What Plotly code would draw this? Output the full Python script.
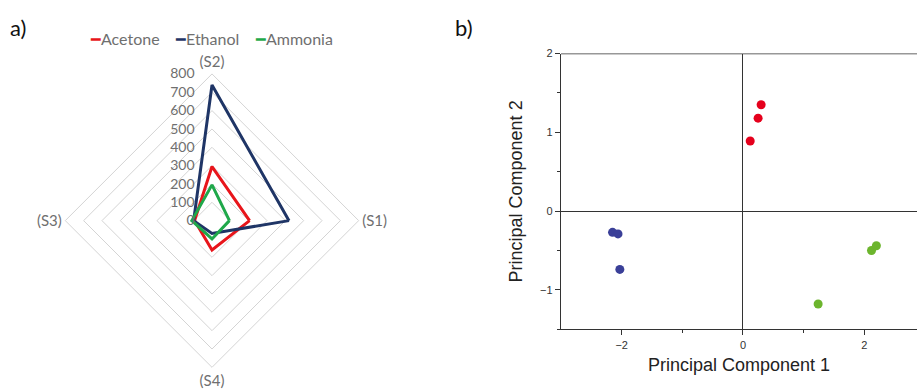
import plotly.graph_objects as go

# Sensor responses (radar chart)
sensors = ["(S1)", "(S2)", "(S3)", "(S4)"]
acetone = [205, 295, 95, 160]
ethanol = [420, 740, 100, 70]
ammonia = [95, 195, 110, 100]

# PCA scores
pc1_acetone = [0.30, 0.25, 0.12]
pc2_acetone = [1.35, 1.18, 0.89]
pc1_ethanol = [-2.15, -2.06, -2.03]
pc2_ethanol = [-0.27, -0.29, -0.74]
pc1_ammonia = [1.24, 2.12, 2.20]
pc2_ammonia = [-1.18, -0.50, -0.44]

series = ["Acetone", "Ethanol", "Ammonia"]
radar_colors = {"Acetone": "#e8151b", "Ethanol": "#1f3566", "Ammonia": "#1fa84a"}
pca_colors = {"Acetone": "#e5001c", "Ethanol": "#3a3f98", "Ammonia": "#6cb52d"}

W, H = 917, 389
fig = go.Figure()


def closed(vals):
    return list(vals) + [vals[0]]


for name, vals in zip(series, [acetone, ethanol, ammonia]):
    fig.add_trace(go.Scatterpolar(
        r=closed(vals), theta=closed(sensors), name=name, mode="lines",
        line=dict(color=radar_colors[name], width=3), subplot="polar",
        showlegend=False,
    ))

for name, xs, ys in zip(series, [pc1_acetone, pc1_ethanol, pc1_ammonia],
                        [pc2_acetone, pc2_ethanol, pc2_ammonia]):
    fig.add_trace(go.Scatter(
        x=xs, y=ys, mode="markers", showlegend=False, name=name,
        marker=dict(color=pca_colors[name], size=9),
    ))

# radar placement (centre and half-size of the polar domain, px)
cx, cy, rad = 212, 218, 149
grey = "#6f6f6f"
fig.update_layout(
    width=W, height=H,
    margin=dict(l=0, r=0, t=0, b=0),
    paper_bgcolor="white", plot_bgcolor="white",
    showlegend=False,
    polar=dict(
        domain=dict(x=[(cx - rad) / W, (cx + rad) / W],
                    y=[1 - (cy + rad) / H, 1 - (cy - rad) / H]),
        bgcolor="white",
        gridshape="linear",
        radialaxis=dict(range=[0, 800], dtick=100, angle=90, tickangle=90,
                        side="counterclockwise", showline=False,
                        ticks="outside", ticklen=12, tickcolor="rgba(0,0,0,0)",
                        gridcolor="#d4d4d4", gridwidth=1,
                        tickfont=dict(family="Lato", size=14, color=grey)),
        angularaxis=dict(type="category", categoryarray=sensors,
                         rotation=0, direction="counterclockwise",
                         showgrid=False, showline=True, linecolor="#d4d4d4",
                         linewidth=1, ticks="",
                         tickfont=dict(family="Lato", size=15, color=grey)),
    ),
    xaxis=dict(domain=[561 / W, 1.0], range=[-3.0, 2.87],
               tickvals=[-2, 0, 2], ticks="outside", ticklen=5, tickwidth=1,
               tickcolor="#333", showline=True, linecolor="#333", linewidth=1.3,
               showgrid=False, zeroline=True, zerolinecolor="#333", zerolinewidth=1.2,
               minor=dict(tickvals=[-1, 1], ticks="outside", ticklen=3, tickcolor="#333"),
               tickfont=dict(family="Liberation Sans", size=11, color="#333"),
               title=dict(text="Principal Component 1", standoff=8,
                          font=dict(family="Liberation Sans", size=18, color="#222"))),
    yaxis=dict(domain=[1 - 328.3 / H, 1 - 48.3 / H], range=[-1.5, 2],
               tickvals=[-1, 0, 1, 2], ticks="outside", ticklen=5, tickwidth=1,
               tickcolor="#333", showline=True, linecolor="#333", linewidth=1.3,
               showgrid=False, zeroline=True, zerolinecolor="#333", zerolinewidth=1.2,
               minor=dict(tickvals=[-1.5, -0.5, 0.5, 1.5], ticks="outside", ticklen=3,
                          tickcolor="#333"),
               tickfont=dict(family="Liberation Sans", size=11, color="#333"),
               title=dict(text="Principal Component 2", standoff=12,
                          font=dict(family="Liberation Sans", size=18, color="#222"))),
)

# top border of the scatter panel
fig.add_shape(type="line", xref="x domain", yref="y", x0=0, x1=1, y0=2, y1=2,
              line=dict(color="#333", width=1.3))

# radar legend: short coloured dash followed by the series name
legend_x = [88, 173, 253]
for name, lx in zip(series, legend_x):
    fig.add_annotation(
        text=f'<span style="color:{radar_colors[name]}">\u2501</span>{name}',
        x=lx / W, y=1 - 33 / H, xref="paper", yref="paper",
        xanchor="left", yanchor="middle", showarrow=False,
        font=dict(family="Lato", size=16, color=grey))

fig.add_annotation(text="a)", x=8 / W, y=1 - 22 / H, xref="paper", yref="paper",
                   xanchor="left", yanchor="middle", showarrow=False,
                   font=dict(family="Lato", size=22, color="#111"))
fig.add_annotation(text="b)", x=453 / W, y=1 - 22 / H, xref="paper", yref="paper",
                   xanchor="left", yanchor="middle", showarrow=False,
                   font=dict(family="Lato", size=22, color="#111"))

fig.write_html("out.html")
